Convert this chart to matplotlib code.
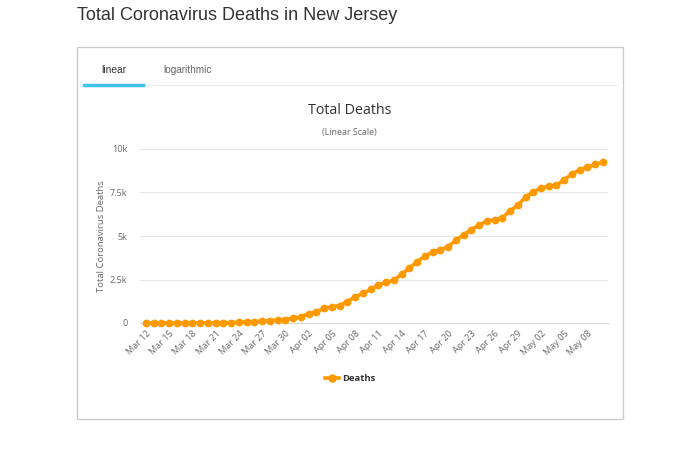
import matplotlib
matplotlib.use("Agg")
import matplotlib.pyplot as plt
from matplotlib.lines import Line2D
from matplotlib.patches import Rectangle

plt.rcParams["font.family"] = ["Open Sans", "DejaVu Sans"]

dates = ["Mar 12", "Mar 13", "Mar 14", "Mar 15", "Mar 16", "Mar 17", "Mar 18", "Mar 19", "Mar 20",
         "Mar 21", "Mar 22", "Mar 23", "Mar 24", "Mar 25", "Mar 26", "Mar 27", "Mar 28", "Mar 29",
         "Mar 30", "Mar 31", "Apr 01", "Apr 02", "Apr 03", "Apr 04", "Apr 05", "Apr 06", "Apr 07",
         "Apr 08", "Apr 09", "Apr 10", "Apr 11", "Apr 12", "Apr 13", "Apr 14", "Apr 15", "Apr 16",
         "Apr 17", "Apr 18", "Apr 19", "Apr 20", "Apr 21", "Apr 22", "Apr 23", "Apr 24", "Apr 25",
         "Apr 26", "Apr 27", "Apr 28", "Apr 29", "Apr 30", "May 01", "May 02", "May 03", "May 04",
         "May 05", "May 06", "May 07", "May 08", "May 09", "May 10"]
deaths = [1, 1, 2, 2, 3, 5, 5, 9, 11, 16, 20, 27, 44, 62, 81, 108, 140, 161, 198, 267,
          355, 537, 646, 846, 917, 1003, 1232, 1504, 1700, 1932, 2183, 2350, 2443, 2805,
          3156, 3518, 3840, 4070, 4202, 4377, 4753, 5063, 5368, 5617, 5863, 5938, 6044,
          6442, 6770, 7228, 7538, 7742, 7871, 7910, 8244, 8549, 8801, 8952, 9116, 9255]
y_ticks = [0, 2500, 5000, 7500, 10000]
y_tick_labels = ["0", "2.5k", "5k", "7.5k", "10k"]

W, H = 700, 462
fig = plt.figure(figsize=(7, 4.62), dpi=100)
fig.patch.set_facecolor("white")

def fx(px):
    return px / W

def fy(py):
    return 1 - py / H

# page title
fig.text(fx(77), fy(15.5), "Total Coronavirus Deaths in New Jersey", fontsize=13.0,
         color="#333333", ha="left", va="center", family="Liberation Sans")

# outer box
fig.patches.append(Rectangle((fx(77), fy(419)), fx(623) - fx(77), fy(47) - fy(419),
                             transform=fig.transFigure, fill=False, edgecolor="#cccccc",
                             linewidth=1.0))
# tab separator and tabs
fig.lines.append(Line2D([fx(84), fx(616)], [fy(85), fy(85)], transform=fig.transFigure,
                        color="#eeeeee", linewidth=1))
fig.lines.append(Line2D([fx(84), fx(143)], [fy(85), fy(85)], transform=fig.transFigure,
                        color="#3fc3ee", linewidth=2.5))
fig.text(fx(114), fy(70), "linear", fontsize=7.4, color="#333333", ha="center", va="center",
         family="Liberation Sans")
fig.text(fx(187.5), fy(70), "logarithmic", fontsize=7.2, color="#666666", ha="center",
         va="center", family="Liberation Sans")

# chart title
fig.text(fx(350), fy(111), "Total Deaths", fontsize=10.3, color="#333333",
         ha="center", va="center")
fig.text(fx(349), fy(133), "(Linear Scale)", fontsize=6.4, color="#666666",
         ha="center", va="center")

ax = fig.add_axes([fx(140), fy(323), fx(608) - fx(140), fy(149) - fy(323)])
x = list(range(len(dates)))
ax.plot(x, deaths, color="#ff9900", linewidth=2.6, marker="o", markersize=5.6,
        markeredgewidth=0, clip_on=False, zorder=3)

ax.set_ylim(0, 10000)
ax.set_xlim(-0.77, len(dates) - 1 + 0.65)
ax.set_yticks(y_ticks)
ax.set_yticklabels(y_tick_labels)
ax.grid(axis="y", color="#e6e6e6", linewidth=0.8)
ax.set_axisbelow(True)
for s in ["top", "right", "left"]:
    ax.spines[s].set_visible(False)
ax.spines["bottom"].set_color("#d8d8d8")
ax.spines["bottom"].set_linewidth(0.8)

tick_idx = list(range(0, len(dates), 3))
ax.set_xticks(tick_idx)
ax.set_xticklabels([dates[i] for i in tick_idx], rotation=45, ha="right",
                   rotation_mode="anchor")
ax.tick_params(axis="x", length=0, labelsize=6.6, labelcolor="#666666", pad=4)
ax.tick_params(axis="y", length=0, labelsize=6.6, labelcolor="#666666", pad=9)
ax.set_ylabel("Total Coronavirus Deaths", fontsize=6.8, color="#666666", labelpad=2.5)

# legend
fig.lines.append(Line2D([fx(325), fx(339)], [fy(378), fy(378)], transform=fig.transFigure,
                        color="#ff9900", linewidth=2.6))
fig.lines.append(Line2D([fx(332)], [fy(378)], transform=fig.transFigure,
                        color="#ff9900", marker="o", markersize=6, markeredgewidth=0))
fig.text(fx(342), fy(378.5), "Deaths", fontsize=6.8, fontweight="bold", color="#333333",
         ha="left", va="center")

fig.savefig("out.png", dpi=100, facecolor="white")
